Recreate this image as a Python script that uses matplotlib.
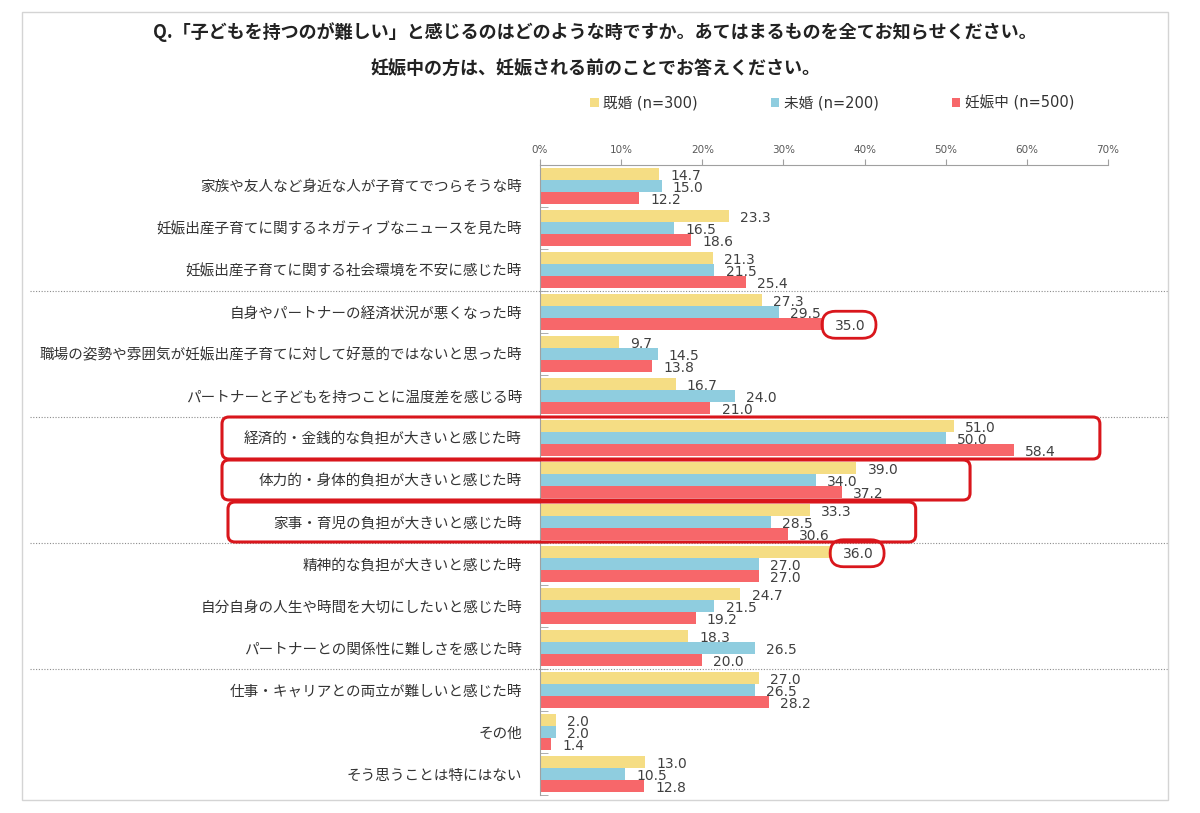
import matplotlib
matplotlib.use("Agg")
import matplotlib.pyplot as plt
import numpy as np
from matplotlib.patches import FancyBboxPatch, Rectangle
from matplotlib.transforms import IdentityTransform
from matplotlib.font_manager import FontProperties

plt.rcParams["font.family"] = ["Noto Sans CJK JP", "DejaVu Sans"]

categories = [
    "家族や友人など身近な人が子育てでつらそうな時",
    "妊娠出産子育てに関するネガティブなニュースを見た時",
    "妊娠出産子育てに関する社会環境を不安に感じた時",
    "自身やパートナーの経済状況が悪くなった時",
    "職場の姿勢や雰囲気が妊娠出産子育てに対して好意的ではないと思った時",
    "パートナーと子どもを持つことに温度差を感じる時",
    "経済的・金銭的な負担が大きいと感じた時",
    "体力的・身体的負担が大きいと感じた時",
    "家事・育児の負担が大きいと感じた時",
    "精神的な負担が大きいと感じた時",
    "自分自身の人生や時間を大切にしたいと感じた時",
    "パートナーとの関係性に難しさを感じた時",
    "仕事・キャリアとの両立が難しいと感じた時",
    "その他",
    "そう思うことは特にはない",
]
married = [14.7, 23.3, 21.3, 27.3, 9.7, 16.7, 51.0, 39.0, 33.3, 36.0, 24.7, 18.3, 27.0, 2.0, 13.0]
single = [15.0, 16.5, 21.5, 29.5, 14.5, 24.0, 50.0, 34.0, 28.5, 27.0, 21.5, 26.5, 26.5, 2.0, 10.5]
pregnant = [12.2, 18.6, 25.4, 35.0, 13.8, 21.0, 58.4, 37.2, 30.6, 27.0, 19.2, 20.0, 28.2, 1.4, 12.8]
series_labels = ["既婚 (n=300)", "未婚 (n=200)", "妊娠中 (n=500)"]
colors = ["#F5DD84", "#8FCDDF", "#F7676A"]
xticks = [0, 10, 20, 30, 40, 50, 60, 70]

W, H = 1200, 813
fig = plt.figure(figsize=(W / 100, H / 100), dpi=100)
ax = fig.add_axes([540 / W, 18 / H, 568 / W, 630 / H])

y = np.arange(len(categories))
bh = 0.28
series = [married, single, pregnant]
for k, (vals, c, lab) in enumerate(zip(series, colors, series_labels)):
    pos = y + (k - 1) * bh
    ax.barh(pos, vals, height=bh, color=c, label=lab, zorder=2)
    for p, v in zip(pos, vals):
        ax.annotate(f"{v:.1f}", xy=(v, p), xytext=(8, -1.5), textcoords="offset points",
                    ha="left", va="center", fontsize=10, color="#404040",
                    family="DejaVu Sans", zorder=4)

ax.set_xlim(0, 70)
ax.set_ylim(len(categories) - 0.5, -0.5)
ax.xaxis.tick_top()
ax.set_xticks(xticks)
ax.set_xticklabels([f"{t}%" for t in xticks], fontsize=7.5, color="#595959", family="DejaVu Sans")
ax.tick_params(axis="x", length=4, color="#A0A0A0", pad=3)
ax.set_yticks(y)
ax.set_yticklabels(categories, fontsize=10.5, color="#333333")
ax.set_yticks(np.arange(len(categories) + 1) - 0.5, minor=True)
ax.tick_params(axis="y", which="major", length=0, pad=13)
ax.tick_params(axis="y", which="minor", length=6, direction="in", color="#A0A0A0")
for s in ["right", "bottom"]:
    ax.spines[s].set_visible(False)
for s in ["left", "top"]:
    ax.spines[s].set_color("#A0A0A0")

# dotted group separators across the whole panel
tr = ax.get_yaxis_transform()
for b in [2.5, 5.5, 8.5, 11.5]:
    ax.plot([(30 - 540) / 568, (1168 - 540) / 568], [b, b], transform=tr, clip_on=False,
            color="#8C8C8C", linestyle=(0, (1, 1.5)), linewidth=0.8, zorder=1)

# outer frame
fig.add_artist(Rectangle((22 / W, 1 - 800 / H), (1168 - 22) / W, (800 - 12) / H,
                         transform=fig.transFigure, fill=False, edgecolor="#D4D4D4", linewidth=1))

# title and legend
fig.text(595 / W, 1 - 32 / H, "Q.「子どもを持つのが難しい」と感じるのはどのような時ですか。あてはまるものを全てお知らせください。",
         ha="center", va="center", fontsize=13, fontweight="bold", color="#222222")
fig.text(595 / W, 1 - 68 / H, "妊娠中の方は、妊娠される前のことでお答えください。",
         ha="center", va="center", fontsize=13, fontweight="bold", color="#222222")
legend_font = FontProperties(family=["DejaVu Sans", "Noto Sans CJK JP"], size=10.5)
fig.legend(loc="center", bbox_to_anchor=(832 / W, 1 - 103 / H), ncol=3, frameon=False,
           prop=legend_font, handlelength=0.6, handleheight=0.6, handletextpad=0.3,
           columnspacing=5.0, labelcolor="#333333")

# highlight boxes
def px(xd, yd):
    return ax.transData.transform((xd, yd))

red = "#D9161C"
for g, left_px, right_val, inset in [(6, 222, 69.0, 0), (7, 222, 53.0, 1), (8, 228, 46.3, 1)]:
    x1 = px(right_val, 0)[0]
    ytop = px(0, g - 0.5)[1] - inset
    ybot = px(0, g + 0.5)[1] + inset
    fig.add_artist(FancyBboxPatch((left_px, ybot), x1 - left_px, ytop - ybot,
                                  boxstyle="round,pad=0,rounding_size=7", transform=IdentityTransform(),
                                  fill=False, edgecolor=red, linewidth=2.2, zorder=5))

for g, k in [(3, 2), (9, 0)]:
    v = series[k][g]
    cx, cy = px(v, g + (k - 1) * bh)
    cx += 25
    cy -= 1
    w, h = 54, 27
    fig.add_artist(FancyBboxPatch((cx - w / 2, cy - h / 2), w, h,
                                  boxstyle=f"round,pad=0,rounding_size={h / 2}", transform=IdentityTransform(),
                                  fill=False, edgecolor=red, linewidth=2.0, zorder=5))

fig.savefig("out.png", dpi=100)
